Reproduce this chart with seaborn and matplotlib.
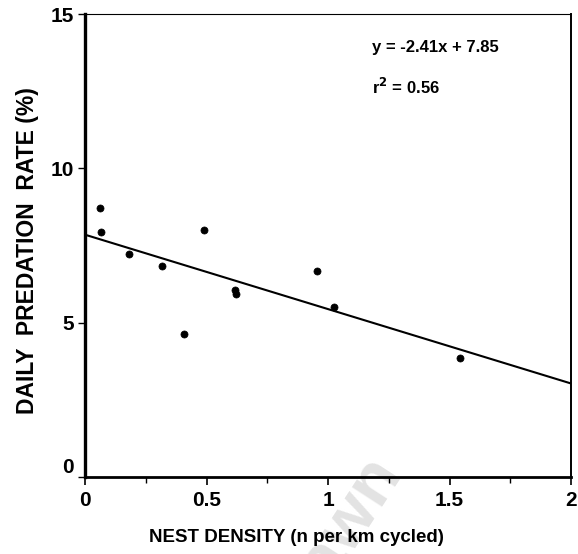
import matplotlib
matplotlib.use("Agg")
import matplotlib.pyplot as plt
import seaborn as sns
import numpy as np
import pandas as pd
from matplotlib.ticker import MultipleLocator

# ---- data ----
nest_density = [0.062, 0.065, 0.181, 0.316, 0.409, 0.491, 0.619, 0.621, 0.953, 1.024, 1.543]
predation_rate = [8.72, 7.94, 7.23, 6.84, 4.64, 8.01, 6.05, 5.93, 6.68, 5.52, 3.86]
slope = -2.41
intercept = 7.85
r_squared = 0.56
line_x = [0.0, 2.0]
x_ticks = [0, 0.5, 1, 1.5, 2]
x_tick_labels = ["0", "0.5", "1", "1.5", "2"]
y_ticks = [0, 5, 10, 15]
y_tick_labels = ["0", "5", "10", "15"]

sns.set_theme(style="white")
plt.rcParams["font.family"] = ["Liberation Sans", "DejaVu Sans"]
plt.rcParams["font.weight"] = "bold"
plt.rcParams["text.color"] = "black"
plt.rcParams["axes.labelcolor"] = "black"
plt.rcParams["xtick.color"] = "black"
plt.rcParams["ytick.color"] = "black"

fig = plt.figure(figsize=(5.78, 5.54), dpi=100)

# faint watermark (drawn first, beneath everything)
fig.text(362 / 578, 1 - 446 / 554, "Withdrawn", fontsize=50, color="#e3e3e3",
         rotation=57, ha="right", va="top", rotation_mode="anchor", zorder=-5)

ax = fig.add_axes([85 / 578, 1 - 477 / 554, (571 - 85) / 578, (477 - 14) / 554])
ax.patch.set_alpha(0)

pts = pd.DataFrame({"x": nest_density, "y": predation_rate})
sns.scatterplot(data=pts, x="x", y="y", ax=ax, color="black", s=26,
                marker="o", edgecolor="black", linewidth=0.5, zorder=3)

line = pd.DataFrame({"x": line_x, "y": [slope * v + intercept for v in line_x]})
sns.lineplot(data=line, x="x", y="y", ax=ax, color="black", linewidth=1.5, zorder=2)

ax.set_xlim(0, 2)
ax.set_ylim(0, 15)
ax.set_xticks(x_ticks)
ax.set_xticklabels(x_tick_labels, fontsize=15, fontweight="bold")
ax.set_yticks(y_ticks)
ax.set_yticklabels(y_tick_labels, fontsize=15, fontweight="bold")
ax.xaxis.set_minor_locator(MultipleLocator(0.25))

ax.tick_params(axis="x", which="major", direction="out", length=6, width=1.2,
               color="black", labelcolor="black", pad=4, bottom=True)
ax.tick_params(axis="x", which="minor", direction="out", length=4, width=1.0,
               color="black", bottom=True)
ax.tick_params(axis="y", which="major", direction="out", length=5, width=1.0,
               color="black", labelcolor="black", pad=3, left=True)

for lbl in ax.get_yticklabels():
    if lbl.get_text() == "0":
        lbl.set_va("bottom")

ax.spines["left"].set_linewidth(2.4)
ax.spines["bottom"].set_linewidth(2.0)
ax.spines["right"].set_linewidth(1.4)
ax.spines["top"].set_linewidth(0.8)
ax.spines["top"].set_linestyle((0, (1, 1)))
for s in ax.spines.values():
    s.set_color("black")

ax.set_xlabel("NEST DENSITY (n per km cycled)", fontsize=13.5, fontweight="bold",
              color="black")
ax.xaxis.set_label_coords((296 - 85) / 486, -(538 - 477) / 463)
ax.xaxis.label.set_va("center")
ax.set_ylabel("DAILY  PREDATION  RATE (%)", fontsize=16.5, fontweight="bold",
              color="black")
ax.yaxis.set_label_coords(-(85 - 28) / 486, 0.49)
ax.yaxis.label.set_va("center")

ax.text(1.18, 13.93, f"y = {slope}x + {intercept}", fontsize=12, fontweight="bold",
        va="center", ha="left", color="black")
ax.text(1.18, 12.63, f"r$^{{2}}$ = {r_squared}", fontsize=12, fontweight="bold",
        va="center", ha="left", color="black")

fig.savefig("out.png", dpi=100)
